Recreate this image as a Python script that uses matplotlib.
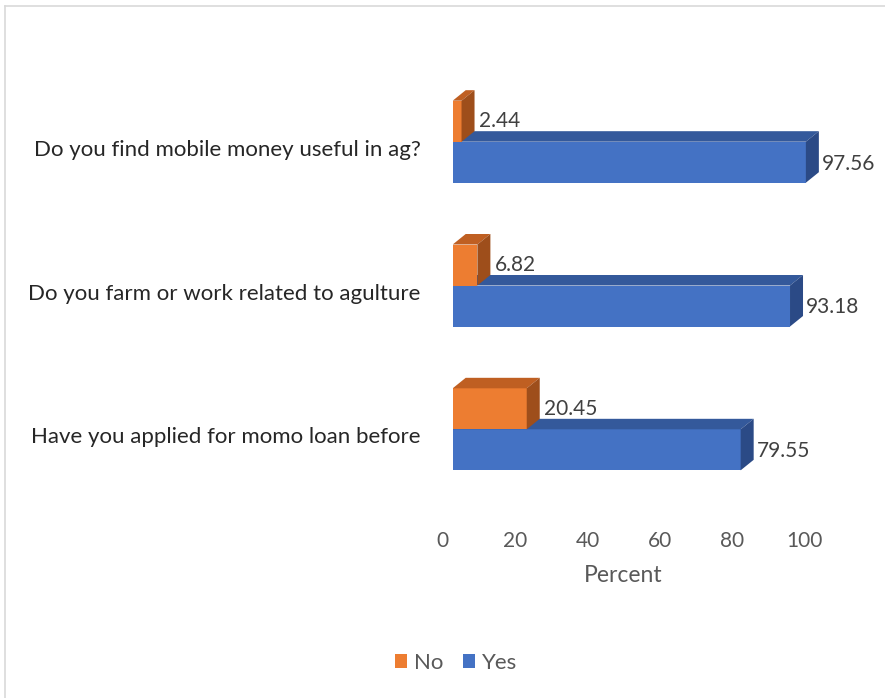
import matplotlib
matplotlib.use("Agg")
import matplotlib.pyplot as plt
import matplotlib.transforms as mtransforms
from matplotlib.patches import Polygon, Patch
from matplotlib.lines import Line2D

plt.rcParams['font.family'] = ['Lato', 'DejaVu Sans']

# data
questions = ['Do you find mobile money useful in ag?',
             'Do you farm or work related to agulture',
             'Have you applied for momo loan before']
no_vals = [2.44, 6.82, 20.45]
yes_vals = [97.56, 93.18, 79.55]
xticks = [0, 20, 40, 60, 80, 100]

# colours: front, top, side
orange = ('#ED7D31', '#BF5F22', '#9E4E1B')
blue = ('#4472C4', '#34599B', '#2B4A86')

W, H, DPI = 885, 698, 100
fig = plt.figure(figsize=(W / DPI, H / DPI), dpi=DPI)

# axes placed in pixels: x=0 at 452.7px, 3.62 px per unit
x0_px, px_unit = 452.7, 3.62
xmax = 110
top_px, bot_px = 55.4, 515.6
ax = fig.add_axes([x0_px / W, (H - bot_px) / H, xmax * px_unit / W, (bot_px - top_px) / H])
ax.set_xlim(0, xmax)
ax.set_ylim(2.6, -0.6)
row_px = (bot_px - top_px) / 3.2

bh = 41 / row_px           # bar thickness
DX = 13 / px_unit          # depth offset right
DY = 10.5 / row_px         # depth offset up

rows = list(range(len(questions)))


def bar3d(y_front_top, val, cols, z):
    # y_front_top: data y of top edge of the front face (smaller y = higher)
    ax.barh(y_front_top + bh / 2, val, height=bh, left=0, color=cols[0], zorder=z)
    yt = y_front_top
    yb = y_front_top + bh
    top = Polygon([(0, yt), (DX, yt - DY), (val + DX, yt - DY), (val, yt)],
                  closed=True, facecolor=cols[1], edgecolor='none', zorder=z)
    side = Polygon([(val, yt), (val + DX, yt - DY), (val + DX, yb - DY), (val, yb)],
                   closed=True, facecolor=cols[2], edgecolor='none', zorder=z)
    ax.add_patch(top)
    ax.add_patch(side)


for i in rows:
    bar3d(i, yes_vals[i], blue, 2)
    bar3d(i - bh, no_vals[i], orange, 3)
    ax.text(no_vals[i] + DX + 1.3, i - bh / 2, f'{no_vals[i]:.2f}', ha='left', va='center',
            fontsize=15, color='#404040', zorder=5)
    ax.text(yes_vals[i] + DX + 0.9, i + bh / 2 + 0.01, f'{yes_vals[i]:.2f}', ha='left', va='center',
            fontsize=15, color='#404040', zorder=5)

ax.set_yticks(rows)
ax.set_yticklabels(questions, fontsize=16, color='#262626')
ax.set_xticks(xticks)
ax.set_xticklabels([str(t) for t in xticks], fontsize=15, color='#595959')
ax.tick_params(axis='both', length=0)
ax.tick_params(axis='y', pad=23)
ax.tick_params(axis='x', pad=11)

# shift tick labels like the 3D floor offset
off_x = mtransforms.ScaledTranslation(-10 / DPI, 0, fig.dpi_scale_trans)
for lab in ax.get_xticklabels():
    lab.set_transform(lab.get_transform() + off_x)
off_y = mtransforms.ScaledTranslation(0, -6 / DPI, fig.dpi_scale_trans)
for lab in ax.get_yticklabels():
    lab.set_transform(lab.get_transform() + off_y)

for s in ax.spines.values():
    s.set_visible(False)

ax.set_xlabel('Percent', fontsize=16.5, color='#595959', va='center')
ax.xaxis.set_label_coords((623 - x0_px) / (xmax * px_unit), (bot_px - 575) / (bot_px - top_px))

# legend
handles = [Patch(facecolor=orange[0], label='No'), Patch(facecolor=blue[0], label='Yes')]
fig.legend(handles=handles, loc='center', bbox_to_anchor=(456 / W, (H - 663) / H), ncol=2,
           frameon=False, fontsize=16, handlelength=0.55, handleheight=0.55,
           handletextpad=0.3, columnspacing=0.9, labelcolor='#595959')

# chart border (only left and top visible in the crop)
fig.add_artist(Line2D([4.5 / W, 4.5 / W], [0, (H - 6) / H], color='#D9D9D9', lw=1.2))
fig.add_artist(Line2D([4.5 / W, 1], [(H - 6) / H, (H - 6) / H], color='#D9D9D9', lw=1.2))

fig.savefig('out.png', dpi=DPI)
